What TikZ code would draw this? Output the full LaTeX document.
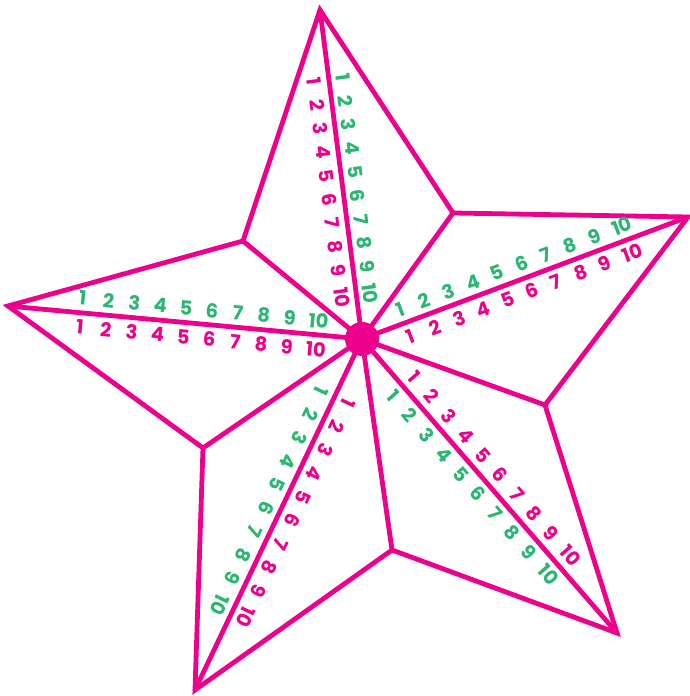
\documentclass[tikz,border=0pt]{standalone}
\usepackage{fontspec}
\setmainfont{Poppins}
\usetikzlibrary{calc}
\definecolor{starpink}{HTML}{EC008C}
\definecolor{stargreen}{HTML}{2BB673}
\newcommand\spokenums[6]{%
  \begin{scope}[shift={(C)}, rotate=#2]
    \foreach \k in {1,...,10} {
      \pgfmathsetmacro\xk{#3+(\k-1)*#4+(\k==10)*3}
      \node[num, text=stargreen, rotate=#2] (#1g\k) at (\xk, #5) {\k};
      \node[num, text=starpink, rotate=#2] (#1p\k) at (\xk, #6) {\k};
    }
  \end{scope}}
\begin{document}
\begin{tikzpicture}[x=1pt,y=1pt,
  edge/.style={starpink, line width=4.8pt, line join=miter, line cap=round},
  num/.style={font=\fontsize{19.5}{19.5}\selectfont\bfseries, inner sep=0pt}]
\useasboundingbox (0,0) rectangle (690,696);
\coordinate (C) at (362,357);
\coordinate (T1) at (320,686);
\coordinate (I1) at (453,483);
\coordinate (T2) at (688,479);
\coordinate (I2) at (545,291);
\coordinate (T3) at (617,63);
\coordinate (I3) at (392,146);
\coordinate (T4) at (195,6);
\coordinate (I4) at (203,248);
\coordinate (T5) at (8,390);
\coordinate (I5) at (243,455);
\draw[edge] (T1) -- (I1) -- (T2) -- (I2) -- (T3) -- (I3) -- (T4) -- (I4) -- (T5) -- (I5) -- cycle;
\foreach \p in {T1,I1,T2,I2,T3,I3,T4,I4,T5,I5} \draw[edge] (C) -- (\p);
\fill[starpink] (C) circle (17);
\spokenums{top}{-82.75}{-262}{23.9}{14}{-15}
\spokenums{right}{20.67}{46}{26}{14}{-15}
\spokenums{br}{-48.97}{63}{26}{-14}{15}
\spokenums{bl}{-115.5}{64}{26}{-14}{15}
\spokenums{left}{-5.5}{-282}{26}{14}{-15}
\end{tikzpicture}
\end{document}
